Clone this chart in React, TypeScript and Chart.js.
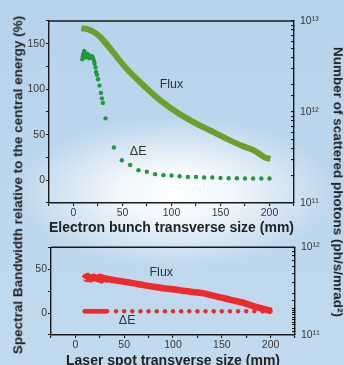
import React, { useEffect, useRef } from 'react';
import { Chart, registerables } from 'chart.js';

Chart.register(...registerables);

const FONT = '"Liberation Sans", Arial, Helvetica, sans-serif';

// ---------- Top panel: electron bunch transverse size ----------
const topFluxX = [8, 15, 23, 30, 40, 54, 71, 88, 105, 122, 139, 156, 173, 183, 190, 196, 201];
const topFluxY = [8.3e12, 8.1e12, 7.3e12, 6.2e12, 4.6e12, 3.0e12, 1.98e12, 1.36e12, 1.0e12, 7.8e11, 6.3e11, 5.1e11, 4.2e11, 3.85e11, 3.45e11, 3.15e11, 3.05e11];

const topDeltaX = [9, 9.5, 10, 10.5, 11, 11.5, 12, 13, 14, 15, 16, 17, 18, 19, 20, 21, 21.5, 22.5, 23, 24, 25, 26.5, 28, 29, 30, 32.7, 41.2, 49.3, 57.8, 66.3, 74.8, 83.3, 91.8, 100, 108.3, 116.7, 125, 133.3, 141.7, 150, 158.3, 166.7, 175, 183.3, 191.7, 200];
const topDeltaY = [133, 136, 138, 140, 142, 138, 135, 136, 139, 137, 134, 137, 135, 136, 134, 131, 128, 124, 119, 116, 111, 104, 96, 90, 85, 68, 36, 22, 16.7, 11.1, 9.3, 6.7, 5.6, 5.2, 4.4, 3.7, 3.7, 3.0, 3.0, 2.6, 2.2, 2.2, 1.9, 1.9, 1.9, 1.9];

// ---------- Bottom panel: laser spot transverse size ----------
const botFluxX = [9.5, 10.5, 11.5, 12.5, 13.5, 14.5, 15.5, 16.5, 17.5, 18.5, 19.5, 20.5, 21.5, 22.5, 23.5, 24.5, 25.5, 26.5, 27.5, 28.5, 29.5, 30.5, 31.5, 33, 40, 50, 60, 70, 80, 90, 100, 110, 120, 130, 140, 150, 160, 170, 180, 190, 201];
const botFluxY = [4.4e11, 4.6e11, 4.35e11, 4.7e11, 4.45e11, 4.5e11, 4.3e11, 4.55e11, 4.4e11, 4.6e11, 4.45e11, 4.5e11, 4.4e11, 4.35e11, 4.55e11, 4.3e11, 4.6e11, 4.2e11, 4.5e11, 4.4e11, 4.35e11, 4.45e11, 4.3e11, 4.35e11, 4.22e11, 4.05e11, 3.88e11, 3.7e11, 3.55e11, 3.42e11, 3.32e11, 3.2e11, 3.1e11, 3.0e11, 2.83e11, 2.67e11, 2.5e11, 2.37e11, 2.18e11, 2.02e11, 1.87e11];

const botDeltaX = [9.5, 10.5, 11.5, 12.5, 13.5, 14.5, 15.5, 16.5, 17.5, 18.5, 19.5, 20.5, 21.5, 22.5, 23.5, 24.5, 25.5, 26.5, 27.5, 28.5, 29.5, 30.5, 31.5, 32.5, 41.7, 50, 58.3, 66.7, 75, 83.3, 91.7, 100, 108.3, 116.7, 125, 133.3, 141.7, 150, 158.3, 166.7, 175, 183.3, 191.7, 200];
const botDeltaY = [2.2, 1.9, 2.3, 2.0, 1.8, 2.2, 2.1, 1.9, 2.3, 2.0, 1.9, 2.2, 2.0, 2.1, 1.8, 2.2, 2.0, 1.9, 2.1, 2.2, 1.9, 2.0, 2.1, 2.0, 2.0, 2.0, 2.0, 2.0, 2.0, 2.0, 2.0, 2.0, 2.0, 2.0, 2.0, 2.0, 2.0, 2.0, 2.0, 2.0, 2.0, 2.0, 2.0, 2.0];

// ---------- Tick labels ----------
const xTickLabels = [0, 50, 100, 150, 200];
const topYLabels = [0, 50, 100, 150];
const botYLabels = [0, 50];

const SUP: Record<string, string> = { '0': '⁰', '1': '¹', '2': '²', '3': '³', '4': '⁴', '5': '⁵', '6': '⁶', '7': '⁷', '8': '⁸', '9': '⁹' };

const GREEN_LINE = '#6e9e2c';
const GREEN_DOT = '#21983d';
const RED = '#ee2b2b';
const AXIS = '#1a1a1a';
const TICK_TEXT = '#3a3a3a';

const toPts = (xs: number[], ys: number[]) => xs.map((x, i) => ({ x, y: ys[i] }));

const logLabel = (v: number) => {
  const e = Math.log10(v);
  if (Math.abs(e - Math.round(e)) < 1e-6) {
    return '10' + String(Math.round(e)).split('').map((c) => SUP[c]).join('');
  }
  return '';
};

const framePlugin = {
  id: 'frameTop',
  afterDatasetsDraw(chart: any) {
    const { ctx, chartArea: a } = chart;
    ctx.save();
    ctx.strokeStyle = AXIS;
    ctx.lineWidth = 1.4;
    ctx.beginPath();
    ctx.moveTo(a.left, a.top);
    ctx.lineTo(a.right, a.top);
    ctx.stroke();
    ctx.restore();
  },
};

type Note = { text: string; x: number; y: number };
const makeNotes = (notes: Note[]) => ({
  id: 'notes',
  afterDatasetsDraw(chart: any) {
    const { ctx } = chart;
    const sx = chart.scales.x;
    const sy = chart.scales.y;
    ctx.save();
    ctx.font = `12.5px ${FONT}`;
    ctx.fillStyle = '#333';
    ctx.textAlign = 'center';
    ctx.textBaseline = 'middle';
    notes.forEach((n) => ctx.fillText(n.text, sx.getPixelForValue(n.x), sy.getPixelForValue(n.y)));
    ctx.restore();
  },
});

const buildConfig = (opts: {
  flux: { x: number; y: number }[];
  delta: { x: number; y: number }[];
  fluxColor: string;
  deltaColor: string;
  fluxWidth: number;
  yMin: number;
  yMax: number;
  yLabels: number[];
  logMin: number;
  logMax: number;
  xTitle: string;
  leftW: number;
  rightW: number;
  xH: number;
  padTop: number;
  titlePadBottom: number;
  notes: Note[];
}): any => ({
  type: 'line',
  data: {
    datasets: [
      {
        label: 'Flux',
        data: opts.flux,
        yAxisID: 'y2',
        borderColor: opts.fluxColor,
        backgroundColor: opts.fluxColor,
        borderWidth: opts.fluxWidth,
        pointRadius: 0,
        tension: 0.3,
        borderCapStyle: 'butt',
        fill: false,
      },
      {
        label: 'ΔE',
        data: opts.delta,
        yAxisID: 'y',
        showLine: false,
        pointRadius: 2.2,
        pointBorderWidth: 0,
        backgroundColor: opts.deltaColor,
        borderColor: opts.deltaColor,
      },
    ],
  },
  options: {
    responsive: false,
    animation: false,
    devicePixelRatio: 1,
    layout: { padding: { top: opts.padTop, left: 0, right: 0, bottom: 0 } },
    plugins: { legend: { display: false }, tooltip: { enabled: false } },
    scales: {
      x: {
        type: 'linear',
        min: -25,
        max: 225,
        afterFit: (s: any) => { s.height = opts.xH; },
        ticks: {
          stepSize: 25,
          autoSkip: false,
          maxRotation: 0,
          padding: 1,
          color: TICK_TEXT,
          font: { family: FONT, size: 10.5 },
          callback: (v: any) => (xTickLabels.includes(Number(v)) ? String(v) : ''),
        },
        grid: { drawOnChartArea: false, drawTicks: true, tickLength: 3, color: AXIS, lineWidth: 1.1 },
        border: { display: true, color: AXIS, width: 1.4 },
        title: {
          display: true,
          text: opts.xTitle,
          color: '#222',
          font: { family: FONT, size: 14, weight: 'bold' },
          padding: { top: 0, bottom: opts.titlePadBottom },
        },
      },
      y: {
        type: 'linear',
        position: 'left',
        min: opts.yMin,
        max: opts.yMax,
        afterFit: (s: any) => { s.width = opts.leftW; },
        ticks: {
          stepSize: 25,
          autoSkip: false,
          padding: 1,
          color: TICK_TEXT,
          font: { family: FONT, size: 10.5 },
          callback: (v: any) => (opts.yLabels.includes(Number(v)) ? String(v) : ''),
        },
        grid: { drawOnChartArea: false, drawTicks: true, tickLength: 3, color: AXIS, lineWidth: 1.1 },
        border: { display: true, color: AXIS, width: 1.4 },
      },
      y2: {
        type: 'logarithmic',
        position: 'right',
        min: opts.logMin,
        max: opts.logMax,
        afterFit: (s: any) => { s.width = opts.rightW; },
        ticks: {
          autoSkip: false,
          padding: 9,
          color: TICK_TEXT,
          font: { family: FONT, size: 10.5 },
          callback: (v: any) => logLabel(Number(v)),
        },
        grid: { drawOnChartArea: false, drawTicks: true, tickLength: -3, color: AXIS, lineWidth: 1.1 },
        border: { display: true, color: AXIS, width: 1.4 },
      },
    },
  },
  plugins: [framePlugin, makeNotes(opts.notes)],
});

function Panel(props: { cfg: any; top: number; height: number }) {
  const ref = useRef<HTMLCanvasElement | null>(null);
  useEffect(() => {
    if (!ref.current) return;
    const chart = new Chart(ref.current, props.cfg);
    return () => chart.destroy();
  }, []);
  return (
    <canvas
      ref={ref}
      width={344}
      height={props.height}
      style={{ position: 'absolute', left: 0, top: props.top, width: 344, height: props.height }}
    />
  );
}

export default function App() {
  const topCfg = buildConfig({
    flux: toPts(topFluxX, topFluxY),
    delta: toPts(topDeltaX, topDeltaY),
    fluxColor: GREEN_LINE,
    deltaColor: GREEN_DOT,
    fluxWidth: 6,
    yMin: -25,
    yMax: 175,
    yLabels: topYLabels,
    logMin: 1e11,
    logMax: 1e13,
    xTitle: 'Electron bunch transverse size (mm)',
    leftW: 49,
    rightW: 50,
    xH: 37,
    padTop: 21,
    titlePadBottom: 3,
    notes: [
      { text: 'Flux', x: 100, y: 105 },
      { text: 'ΔE', x: 66, y: 31 },
    ],
  });
  const botCfg = buildConfig({
    flux: toPts(botFluxX, botFluxY),
    delta: toPts(botDeltaX, botDeltaY),
    fluxColor: RED,
    deltaColor: RED,
    fluxWidth: 6.5,
    yMin: -25,
    yMax: 75,
    yLabels: botYLabels,
    logMin: 1e11,
    logMax: 1e12,
    xTitle: 'Laser spot transverse size (mm)',
    leftW: 51,
    rightW: 49,
    xH: 37,
    padTop: 10,
    titlePadBottom: 2,
    notes: [
      { text: 'Flux', x: 88, y: 46 },
      { text: 'ΔE', x: 53, y: -9 },
    ],
  });

  const vTitle: React.CSSProperties = {
    position: 'absolute',
    whiteSpace: 'nowrap',
    fontFamily: FONT,
    fontWeight: 'bold',
    fontSize: 13.5,
    lineHeight: 1,
    color: '#222',
    transformOrigin: 'center center',
  };

  return (
    <div
      style={{
        position: 'fixed',
        left: 0,
        top: 0,
        width: 344,
        height: 365,
        overflow: 'hidden',
        background:
          'radial-gradient(ellipse 160px 75px at 175px 192px, rgba(255,255,255,1) 0%, rgba(255,255,255,0.8) 35%, rgba(255,255,255,0) 100%), linear-gradient(180deg, #b7d3eb 0%, #bdd7ed 60%, #c1daee 100%)',
      }}
    >
      <Panel cfg={topCfg} top={0} height={240} />
      <Panel cfg={botCfg} top={232} height={140} />
      <div
        style={{
          ...vTitle,
          left: 18,
          top: 185,
          transform: 'translate(-50%, -50%) rotate(-90deg)',
        }}
      >
        Spectral Bandwidth relative to the central energy (%)
      </div>
      <div
        style={{
          ...vTitle,
          left: 338,
          top: 182,
          transform: 'translate(-50%, -50%) rotate(90deg)',
        }}
      >
        Number of scattered photons (ph/s/mrad²)
      </div>
    </div>
  );
}
